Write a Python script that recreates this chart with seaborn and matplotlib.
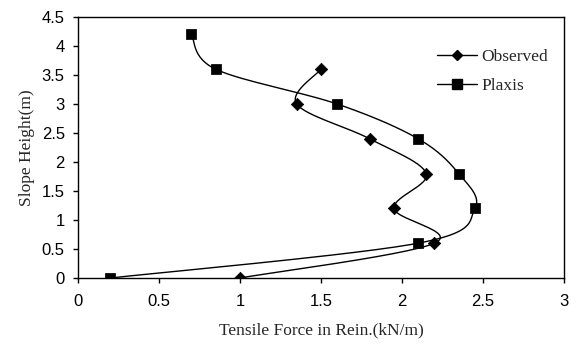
import numpy as np
import matplotlib
matplotlib.use("Agg")
import matplotlib.pyplot as plt
import seaborn as sns
from matplotlib.lines import Line2D

# Data
obs_force = [1.0, 2.2, 1.95, 2.15, 1.8, 1.35, 1.5]
obs_height = [0.0, 0.6, 1.2, 1.8, 2.4, 3.0, 3.6]
plx_force = [0.2, 2.1, 2.45, 2.35, 2.1, 1.6, 0.85, 0.7]
plx_height = [0.0, 0.6, 1.2, 1.8, 2.4, 3.0, 3.6, 4.2]
x_ticks = [0, 0.5, 1, 1.5, 2, 2.5, 3]
y_ticks = [0, 0.5, 1, 1.5, 2, 2.5, 3, 3.5, 4, 4.5]

sns.set_style("ticks")
plt.rcParams["font.family"] = ["Liberation Sans", "DejaVu Sans"]

W, H = 582, 344
fig = plt.figure(figsize=(W / 100, H / 100), dpi=100)
L, R, T, B = 78, 564, 17, 278
ax = fig.add_axes([L / W, 1 - B / H, (R - L) / W, (B - T) / H])

XMAX, YMAX = 3.0, 4.5
SX, SY = (R - L) / XMAX, (B - T) / YMAX  # pixel scale for smoothing


def smooth(xs, ys, n=30):
    # Excel-style smoothed line (Catmull-Rom Bezier in pixel space)
    P = np.column_stack([np.array(xs) * SX, np.array(ys) * SY])
    out = []
    for i in range(len(P) - 1):
        p0 = P[i - 1] if i > 0 else P[i]
        p1, p2 = P[i], P[i + 1]
        p3 = P[i + 2] if i + 2 < len(P) else P[i + 1]
        c1 = p1 + (p2 - p0) / 6.0
        c2 = p2 - (p3 - p1) / 6.0
        t = np.linspace(0, 1, n)[:, None]
        seg = ((1 - t) ** 3) * p1 + 3 * ((1 - t) ** 2) * t * c1 + 3 * (1 - t) * t ** 2 * c2 + t ** 3 * p2
        out.append(seg if i == 0 else seg[1:])
    pts = np.vstack(out)
    return pts[:, 0] / SX, pts[:, 1] / SY


ox, oy = smooth(obs_force, obs_height)
px, py = smooth(plx_force, plx_height)
sns.lineplot(x=ox, y=oy, sort=False, estimator=None, color="black", lw=1.0, ax=ax)
sns.lineplot(x=px, y=py, sort=False, estimator=None, color="black", lw=1.0, ax=ax)
sns.scatterplot(x=obs_force, y=obs_height, marker="D", s=40, color="black", edgecolor="black", ax=ax, zorder=3)
sns.scatterplot(x=plx_force, y=plx_height, marker="s", s=45, color="black", edgecolor="black", ax=ax, zorder=3)

ax.set_xlim(0, XMAX)
ax.set_ylim(0, YMAX)
ax.set_xticks(x_ticks)
ax.set_xticklabels([f"{v:g}" for v in x_ticks])
ax.set_yticks(y_ticks)
ax.set_yticklabels([f"{v:g}" for v in y_ticks])
ax.tick_params(direction="out", length=3.5, width=1, labelsize=12, colors="black")
ax.tick_params(axis="x", pad=8)
ax.tick_params(axis="y", pad=6)
for s in ax.spines.values():
    s.set_color("black")
    s.set_linewidth(1.0)
    s.set_visible(True)

ax.set_xlabel("Tensile Force in Rein.(kN/m)", family="Liberation Serif", fontsize=12.5, labelpad=10)
ax.set_ylabel("Slope Height(m)", family="Liberation Serif", fontsize=12.5, labelpad=5)

handles = [
    Line2D([], [], color="black", lw=1, marker="D", markersize=5.5, label="Observed"),
    Line2D([], [], color="black", lw=1, marker="s", markersize=6.5, label="Plaxis"),
]
ax.legend(handles=handles, loc="upper left", bbox_to_anchor=(437 / W, 1 - 49 / H),
          bbox_transform=fig.transFigure, frameon=False, borderpad=0, borderaxespad=0,
          prop={"family": "Liberation Serif", "size": 12.5}, handlelength=2.3,
          handletextpad=0.25, labelspacing=0.72)

fig.savefig("out.png", dpi=100)
